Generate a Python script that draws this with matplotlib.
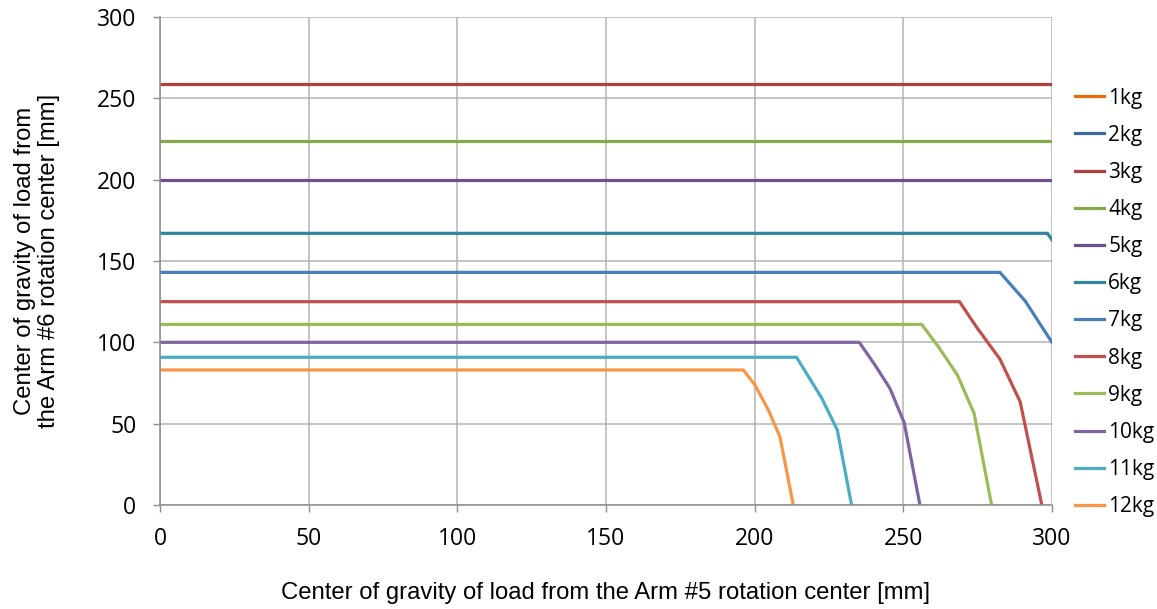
import matplotlib
matplotlib.use("Agg")
import matplotlib.pyplot as plt

# allowable load position curves
labels = ["1kg", "2kg", "3kg", "4kg", "5kg", "6kg",
          "7kg", "8kg", "9kg", "10kg", "11kg", "12kg"]

x_1kg = [0, 300]
y_1kg = [448, 448]
x_2kg = [0, 300]
y_2kg = [317, 317]
x_3kg = [0, 300]
y_3kg = [259, 259]
x_4kg = [0, 300]
y_4kg = [224, 224]
x_5kg = [0, 300]
y_5kg = [200, 200]
x_6kg = [0, 298.5, 300]
y_6kg = [167, 167, 163]
x_7kg = [0, 282.5, 291, 300]
y_7kg = [143, 143, 125.4, 100]
x_8kg = [0, 268.9, 274.7, 282.5, 289.3, 296.6]
y_8kg = [125, 125, 109.2, 89.7, 63.5, 0]
x_9kg = [0, 256.2, 261.8, 268.2, 273.8, 279.7]
y_9kg = [111, 111, 97.3, 79.9, 56.4, 0]
x_10kg = [0, 235.2, 240.5, 245.5, 250.3, 255.6]
y_10kg = [100, 100, 86, 71.7, 50.6, 0]
x_11kg = [0, 214.1, 222.6, 227.8, 232.6]
y_11kg = [90.8, 90.8, 65.6, 46.1, 0]
x_12kg = [0, 196.2, 200.1, 204.6, 208.5, 213]
y_12kg = [83, 83, 73.8, 58.4, 42, 0]

xs = [x_1kg, x_2kg, x_3kg, x_4kg, x_5kg, x_6kg,
      x_7kg, x_8kg, x_9kg, x_10kg, x_11kg, x_12kg]
ys = [y_1kg, y_2kg, y_3kg, y_4kg, y_5kg, y_6kg,
      y_7kg, y_8kg, y_9kg, y_10kg, y_11kg, y_12kg]

colors = ["#E46C0A", "#3B6AA3", "#B0403D", "#86A94A", "#6B4F8E", "#31879E",
          "#4A7EBB", "#C0504D", "#9BBB59", "#8064A2", "#4BACC6", "#F79646"]

tick_font = ["Open Sans", "DejaVu Sans"]
label_font = ["Liberation Sans", "DejaVu Sans"]

fig = plt.figure(figsize=(11.57, 6.09), dpi=100)
ax = fig.add_axes([0.1383, 0.1708, 0.7709, 0.8013])

for x, y, c, lab in zip(xs, ys, colors, labels):
    ax.plot(x, y, color=c, lw=2.3, label=lab, solid_joinstyle="miter")

ax.set_xlim(0, 300)
ax.set_ylim(0, 300)
ax.set_xticks(range(0, 301, 50))
ax.set_yticks(range(0, 301, 50))
ax.grid(True, color="#B4B4B4", lw=1.1)
ax.set_axisbelow(True)

for s in ["top", "right"]:
    ax.spines[s].set_visible(False)
for s in ["left", "bottom"]:
    ax.spines[s].set_color("#8C8C8C")
    ax.spines[s].set_linewidth(1.1)

ax.tick_params(axis="both", direction="out", length=5, width=1, color="#8C8C8C",
               labelsize=16.5)
ax.tick_params(axis="y", pad=12)
ax.tick_params(axis="x", pad=11)
for t in ax.get_xticklabels() + ax.get_yticklabels():
    t.set_family(tick_font)

ax.set_xlabel("Center of gravity of load from the Arm #5 rotation center [mm]",
              fontsize=17.2, family=label_font)
ax.xaxis.set_label_coords(0.5, -0.158)
ax.set_ylabel("Center of gravity of load from\nthe Arm #6 rotation center [mm]",
              fontsize=17.2, family=label_font, linespacing=1.1)
ax.yaxis.set_label_coords(-0.112, 0.5)

leg = fig.legend(loc="center left", bbox_to_anchor=(0.929, 0.5035), frameon=False,
                 borderpad=0, borderaxespad=0, handlelength=1.4, handletextpad=0.2,
                 labelspacing=0.775, prop={"family": tick_font, "size": 15})

fig.savefig("out.png", dpi=100)
